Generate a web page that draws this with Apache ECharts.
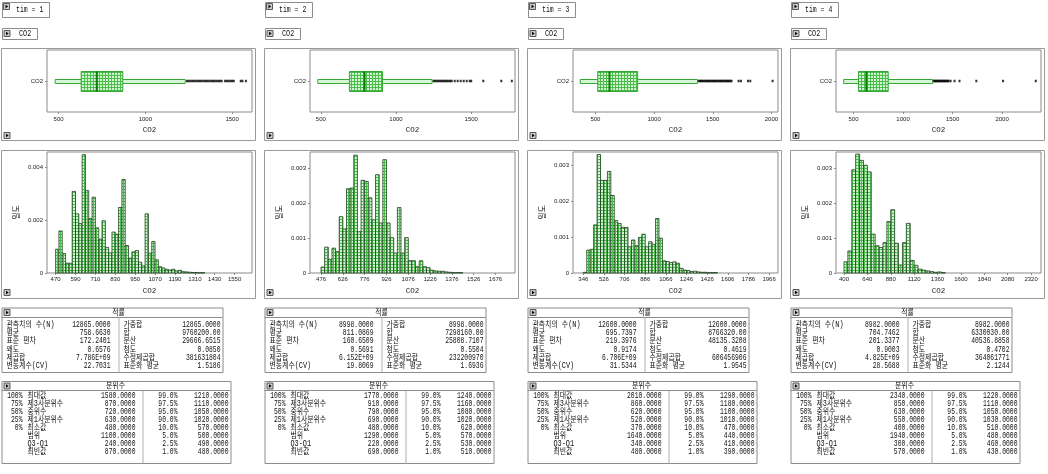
<!DOCTYPE html>
<html><head><meta charset="utf-8">
<script src="https://cdn.jsdelivr.net/npm/echarts@6/dist/echarts.min.js"></script>
<style>html,body{margin:0;padding:0;background:#fff;}#c{width:1048px;height:474px;}</style>
</head><body><div id="c"></div>
<script>
// ================= DATA =================
const timLabels = ['tim = 1', 'tim = 2', 'tim = 3', 'tim = 4'];
const varName = 'CO2';
const densityName = '밀도';

// box plot stats: [min, Q1, median, Q3, upper whisker]
const box1 = [480, 630, 720, 870, 1230];
const box2 = [480, 690, 790, 910, 1240];
const box3 = [370, 520, 620, 860, 1370];
const box4 = [400, 550, 630, 850, 1300];

const outliers1 = [1240,1250,1260,1270,1280,1290,1300,1310,1320,1330,1340,1350,1360,1370,1380,1390,1400,1410,1420,1430,1440,1460,1470,1480,1490,1500,1510,1550,1560,1580];
const outliers2 = [1250,1260,1270,1280,1290,1300,1310,1320,1330,1340,1350,1360,1370,1390,1410,1430,1450,1470,1490,1500,1580,1700,1770];
const outliers3 = [1380,1390,1400,1410,1420,1430,1440,1450,1460,1470,1480,1490,1500,1510,1520,1530,1540,1550,1560,1570,1580,1590,1600,1610,1620,1630,1640,1650,1660,1720,1740,1800,1820,2010];
const outliers4 = [1310,1320,1330,1340,1350,1360,1370,1380,1390,1400,1410,1420,1430,1440,1450,1460,1480,1520,1570,1740,2010,2340];

// histogram: first bin edge, bin width, densities
const histStart = [470, 476, 346, 400];
const histBinWidth = [20, 25, 30, 40];
const hist1 = [0.00090,0.00159,0.00074,0.00037,0.00037,0.00309,0.00224,0.00187,0.00448,0.00312,0.00206,0.00287,0.00171,0.00128,0.00198,0.00097,0.00076,0.00155,0.00147,0.00248,0.00354,0.00104,0.00056,0.00080,0.00085,0.00041,0.00027,0.00224,0.00075,0.00119,0.00050,0.00024,0.00019,0.00014,0.00011,0.00014,0.00008,0.00010,0.00005,0.00004,0.00003,0.00002,0.00002,0.00001,0.00001];
const hist2 = [0.00017,0.00074,0.00039,0.00071,0.00061,0.00161,0.00126,0.00241,0.00243,0.00337,0.00118,0.00265,0.00262,0.00215,0.00152,0.00281,0.00143,0.00324,0.00143,0.00101,0.00057,0.00187,0.00057,0.00101,0.00035,0.00035,0.00018,0.00035,0.00018,0.00015,0.00008,0.00006,0.00005,0.00005,0.00003,0.00002,0.00001,0.00001,0.00001];
const hist3 = [0.00002,0.00064,0.00066,0.00134,0.00330,0.00258,0.00258,0.00283,0.00216,0.00146,0.00138,0.00127,0.00127,0.00073,0.00092,0.00076,0.00099,0.00108,0.00073,0.00087,0.00080,0.00152,0.00097,0.00034,0.00032,0.00029,0.00031,0.00027,0.00013,0.00008,0.00007,0.00004,0.00005,0.00003,0.00002,0.00002,0.00001,0.00001,0.00001];
const hist4 = [0.00032,0.00063,0.00295,0.00340,0.00322,0.00308,0.00289,0.00111,0.00078,0.00073,0.00087,0.00147,0.00181,0.00085,0.00023,0.00087,0.00142,0.00036,0.00022,0.00011,0.00008,0.00006,0.00004,0.00002,0.00003,0.00001];

// tick labels
const boxTicks1 = [500, 1000, 1500];
const boxTicks2 = [500, 1000, 1500];
const boxTicks3 = [500, 1000, 1500, 2000];
const boxTicks4 = [500, 1000, 1500, 2000];
const histTicks1 = [470, 590, 710, 830, 950, 1070, 1190, 1310, 1430, 1550];
const histTicks2 = [476, 626, 776, 926, 1076, 1226, 1376, 1526, 1676];
const histTicks3 = [346, 526, 706, 886, 1066, 1246, 1426, 1606, 1786, 1966];
const histTicks4 = [400, 640, 880, 1120, 1360, 1600, 1840, 2080, 2320];
const densTicks1 = [0, 0.002, 0.004];
const densTicks2 = [0, 0.001, 0.002, 0.003];
const densTicks3 = [0, 0.001, 0.002, 0.003];
const densTicks4 = [0, 0.001, 0.002, 0.003];

// axis extents
const boxRange1 = [433, 1615];
const boxRange2 = [428, 1791];
const boxRange3 = [309, 2056];
const boxRange4 = [323, 2393];
const histRange1 = [418, 1655];
const histRange2 = [400, 1810];
const histRange3 = [256, 2044];
const histRange4 = [318, 2422];
const densMax1 = 0.00458;
const densMax2 = 0.00346;
const densMax3 = 0.00337;
const densMax4 = 0.00346;

// moments table
const momentTitle = '적률';
const momentNamesL = ['관측치의 수(N)', '평균', '표준 편차', '왜도', '제곱합', '변동계수(CV)'];
const momentNamesR = ['가중합', '합', '분산', '첨도', '수정제곱합', '표준화 평균'];
const moments1L = ['12865.0000', '758.6630', '172.2401', '0.6576', '7.786E+09', '22.7031'];
const moments1R = ['12865.0000', '9760200.00', '29666.6515', '0.0850', '381631804', '1.5186'];
const moments2L = ['8998.0000', '811.0869', '160.6509', '0.5691', '6.152E+09', '19.8069'];
const moments2R = ['8998.0000', '7298160.00', '25808.7107', '0.5504', '232200970', '1.6936'];
const moments3L = ['12600.0000', '695.7397', '219.3976', '0.9174', '6.706E+09', '31.5344'];
const moments3R = ['12600.0000', '8766320.00', '48135.3208', '0.4619', '606456906', '1.9545'];
const moments4L = ['8982.0000', '704.7462', '201.3377', '0.9003', '4.825E+09', '28.5688'];
const moments4R = ['8982.0000', '6330030.00', '40536.8858', '0.4702', '364061771', '2.1244'];

// quantiles table
const quantTitle = '분위수';
const quantPctL = ['100%', '75%', '50%', '25%', '0%', '', '', ''];
const quantNamesL = ['최대값', '제3사분위수', '중위수', '제1사분위수', '최소값', '범위', 'Q3-Q1', '최빈값'];
const quantPctR = ['99.0%', '97.5%', '95.0%', '90.0%', '10.0%', '5.0%', '2.5%', '1.0%'];
const quant1L = ['1580.0000', '870.0000', '720.0000', '630.0000', '480.0000', '1100.0000', '240.0000', '870.0000'];
const quant1R = ['1210.0000', '1110.0000', '1050.0000', '1020.0000', '570.0000', '500.0000', '490.0000', '480.0000'];
const quant2L = ['1770.0000', '910.0000', '790.0000', '690.0000', '480.0000', '1290.0000', '220.0000', '690.0000'];
const quant2R = ['1240.0000', '1160.0000', '1080.0000', '1020.0000', '620.0000', '570.0000', '530.0000', '510.0000'];
const quant3L = ['2010.0000', '860.0000', '620.0000', '520.0000', '370.0000', '1640.0000', '340.0000', '480.0000'];
const quant3R = ['1290.0000', '1180.0000', '1100.0000', '1010.0000', '470.0000', '440.0000', '410.0000', '390.0000'];
const quant4L = ['2340.0000', '850.0000', '630.0000', '550.0000', '400.0000', '1940.0000', '300.0000', '570.0000'];
const quant4R = ['1220.0000', '1110.0000', '1050.0000', '1030.0000', '510.0000', '480.0000', '460.0000', '430.0000'];

// ================= BUILD =================
const panels = [
  {tim: timLabels[0], box: box1, out: outliers1, hist: hist1, bt: boxTicks1, ht: histTicks1, dt: densTicks1, br: boxRange1, hr: histRange1, dm: densMax1, mL: moments1L, mR: moments1R, qL: quant1L, qR: quant1R},
  {tim: timLabels[1], box: box2, out: outliers2, hist: hist2, bt: boxTicks2, ht: histTicks2, dt: densTicks2, br: boxRange2, hr: histRange2, dm: densMax2, mL: moments2L, mR: moments2R, qL: quant2L, qR: quant2R},
  {tim: timLabels[2], box: box3, out: outliers3, hist: hist3, bt: boxTicks3, ht: histTicks3, dt: densTicks3, br: boxRange3, hr: histRange3, dm: densMax3, mL: moments3L, mR: moments3R, qL: quant3L, qR: quant3R},
  {tim: timLabels[3], box: box4, out: outliers4, hist: hist4, bt: boxTicks4, ht: histTicks4, dt: densTicks4, br: boxRange4, hr: histRange4, dm: densMax4, mL: moments4L, mR: moments4R, qL: quant4L, qR: quant4R}
];
const PX = [1, 264, 527, 790];
const FW = 254;

function makePattern() {
  const c = document.createElement('canvas');
  c.width = 3; c.height = 3;
  const g = c.getContext('2d');
  g.fillStyle = '#d2f4d2'; g.fillRect(0, 0, 3, 3);
  g.fillStyle = '#4cbc4c'; g.fillRect(0, 0, 3, 1); g.fillRect(0, 0, 1, 3);
  return c;
}
const pat = {image: makePattern(), repeat: 'repeat'};

const AX = '#8a8a8a';
const TXT = '#222';
const LBL = {fontSize: 6, fontFamily: 'Liberation Sans', color: TXT, formatter: v => String(v)};
const MONO = "'Liberation Mono','Noto Sans CJK KR'";

const grid = [], xAxis = [], yAxis = [], series = [], graphic = [];

function icon(x, y) {
  return {type: 'group', x: x, y: y, silent: true, children: [
    {type: 'rect', shape: {x: 0.5, y: 0.5, width: 6, height: 6}, style: {fill: '#c9c9c9', stroke: '#5a5a5a', lineWidth: 1}},
    {type: 'polygon', shape: {points: [[2.5, 1.8], [5.2, 3.5], [2.5, 5.2]]}, style: {fill: '#000'}}
  ]};
}
function txt(x, y, s, align, size, sy, sx) {
  return {type: 'text', x: x, y: y, scaleY: sy || 1.35, scaleX: sx || 1, silent: true,
    style: {text: s, x: 0, y: 0, textAlign: align, align: align, textVerticalAlign: 'middle', verticalAlign: 'middle',
      font: size + 'px ' + MONO, fill: '#111'}};
}
// Korean labels: larger glyphs, latin parts narrowed
function ktxt(x, y, s, align) { return txt(x, y, s, align, 7.8, 1.05, 0.88); }
function frame(x, y, w, h, color) {
  return {type: 'rect', silent: true, shape: {x: x + 0.5, y: y + 0.5, width: w, height: h}, style: {fill: 'none', stroke: color || '#9a9a9a', lineWidth: 1}};
}
function hline(x1, x2, y, color) {
  return {type: 'line', silent: true, shape: {x1: x1, y1: y + 0.5, x2: x2, y2: y + 0.5}, style: {stroke: color || '#9a9a9a', lineWidth: 1}};
}
function vline(x, y1, y2, color) {
  return {type: 'line', silent: true, shape: {x1: x + 0.5, y1: y1, x2: x + 0.5, y2: y2}, style: {stroke: color || '#9a9a9a', lineWidth: 1}};
}

panels.forEach((p, i) => {
  const X = PX[i];
  const gb = 2 * i, gh = 2 * i + 1;
  grid.push({left: X + 46, top: 50, width: 205, height: 62, show: true, borderColor: AX, borderWidth: 1, backgroundColor: '#fff'});
  grid.push({left: X + 46, top: 152, width: 205, height: 121, show: true, borderColor: AX, borderWidth: 1, backgroundColor: '#fff'});
  xAxis.push({gridIndex: gb, type: 'value', min: p.br[0], max: p.br[1],
    axisLine: {show: false}, splitLine: {show: false},
    axisTick: {show: true, length: 2, customValues: p.bt, lineStyle: {color: AX}},
    axisLabel: Object.assign({}, LBL, {customValues: p.bt, margin: 4}),
    name: varName, nameLocation: 'middle', nameGap: 14,
    nameTextStyle: {fontSize: 7.5, fontFamily: 'Liberation Mono', color: TXT}});
  yAxis.push({gridIndex: gb, type: 'category', data: [varName],
    axisLine: {show: false}, splitLine: {show: false},
    axisTick: {show: true, length: 2, alignWithLabel: true, lineStyle: {color: AX}},
    axisLabel: {margin: 4, fontSize: 6, fontFamily: 'Liberation Sans', color: TXT}});
  xAxis.push({gridIndex: gh, type: 'value', min: p.hr[0], max: p.hr[1],
    axisLine: {show: false}, splitLine: {show: false},
    axisTick: {show: true, length: 2, customValues: p.ht, lineStyle: {color: AX}},
    axisLabel: Object.assign({}, LBL, {customValues: p.ht, margin: 3}),
    name: varName, nameLocation: 'middle', nameGap: 14,
    nameTextStyle: {fontSize: 7.5, fontFamily: 'Liberation Mono', color: TXT}});
  yAxis.push({gridIndex: gh, type: 'value', min: 0, max: p.dm,
    axisLine: {show: false}, splitLine: {show: false},
    axisTick: {show: true, length: 2, customValues: p.dt, lineStyle: {color: AX}},
    axisLabel: Object.assign({}, LBL, {customValues: p.dt, margin: 4, formatter: v => v === 0 ? '0' : v.toFixed(3)}),
    name: densityName, nameLocation: 'middle', nameGap: 27, nameRotate: 90,
    nameTextStyle: {fontSize: 8, fontFamily: 'Noto Sans CJK KR', color: TXT}});
  series.push({type: 'custom', xAxisIndex: gb, yAxisIndex: gb, animation: false, silent: true,
    data: [[p.box[0], p.box[1], p.box[2], p.box[3], p.box[4], 0]],
    encode: {x: [0, 1, 2, 3, 4], y: 5},
    renderItem: (params, api) => {
      const px = k => api.coord([api.value(k), 0])[0];
      const yc = Math.round(api.coord([api.value(0), 0])[1]) + 0.5;
      const x0 = px(0), x1 = px(1), x2 = px(2), x3 = px(3), x4 = px(4);
      return {type: 'group', children: [
        {type: 'rect', shape: {x: x0, y: yc - 2, width: x4 - x0, height: 4}, style: {fill: '#d6f6d6', stroke: '#36a836', lineWidth: 1}},
        {type: 'rect', shape: {x: x1, y: yc - 10, width: x3 - x1, height: 20}, style: {fill: pat, stroke: '#36a836', lineWidth: 1}},
        {type: 'line', shape: {x1: x2, y1: yc - 10, x2: x2, y2: yc + 10}, style: {stroke: '#0a7a0a', lineWidth: 2}}
      ]};
    }});
  series.push({type: 'scatter', xAxisIndex: gb, yAxisIndex: gb, animation: false, silent: true,
    symbol: 'rect', symbolSize: [2, 2.5], itemStyle: {color: '#000'},
    data: p.out.map(v => [v, 0])});
  const st = histStart[i], bw = histBinWidth[i];
  series.push({type: 'custom', xAxisIndex: gh, yAxisIndex: gh, animation: false, silent: true,
    data: p.hist.map((d, k) => [st + k * bw, st + (k + 1) * bw, d]),
    encode: {x: [0, 1], y: 2},
    renderItem: (params, api) => {
      const a = api.coord([api.value(0), api.value(2)]);
      const b = api.coord([api.value(1), 0]);
      return {type: 'rect', shape: {x: a[0], y: a[1], width: b[0] - a[0], height: b[1] - a[1]},
        style: {fill: pat, stroke: '#1e3f1e', lineWidth: 0.8}};
    }});
  graphic.push(frame(X + 1, 2, 47, 15, '#8c8c8c'));
  graphic.push(icon(X + 2, 3));
  graphic.push(txt(X + 15, 10, p.tim, 'left', 6.5, 1.3));
  graphic.push(frame(X + 1, 28, 35, 11, '#8c8c8c'));
  graphic.push(icon(X + 2.5, 30));
  graphic.push(txt(X + 18, 33.5, varName, 'left', 6.8, 1.2));
  graphic.push(frame(X, 48, FW, 92));
  graphic.push(icon(X + 2.5, 132));
  graphic.push(frame(X, 150, FW, 148));
  graphic.push(icon(X + 2.5, 289));
  const tx = X + 0.5;
  graphic.push(frame(tx, 307.5, 221, 64.5, '#8c8c8c'));
  graphic.push(hline(tx, tx + 221, 317, '#8c8c8c'));
  graphic.push(vline(tx + 117, 317.5, 372.5, '#b0b0b0'));
  graphic.push(icon(tx + 2, 309));
  graphic.push(ktxt(tx + 117, 312.5, momentTitle, 'center'));
  for (let r = 0; r < 6; r++) {
    const y = 324.5 + r * 8.3;
    graphic.push(ktxt(tx + 5, y, momentNamesL[r], 'left'));
    graphic.push(txt(tx + 109, y, p.mL[r], 'right', 6.4));
    graphic.push(ktxt(tx + 122, y, momentNamesR[r], 'left'));
    graphic.push(txt(tx + 219, y, p.mR[r], 'right', 6.4));
  }
  graphic.push(frame(tx, 381, 229, 82, '#8c8c8c'));
  graphic.push(hline(tx, tx + 229, 390, '#8c8c8c'));
  graphic.push(vline(tx + 141, 390.5, 463.5, '#b0b0b0'));
  graphic.push(icon(tx + 2, 382.5));
  graphic.push(ktxt(tx + 114, 385.8, quantTitle, 'center'));
  for (let r = 0; r < 8; r++) {
    const y = 396 + r * 8;
    if (quantPctL[r]) graphic.push(txt(tx + 21, y, quantPctL[r], 'right', 6.4));
    graphic.push(ktxt(tx + 26, y, quantNamesL[r], 'left'));
    graphic.push(txt(tx + 134, y, p.qL[r], 'right', 6.4));
    graphic.push(txt(tx + 176, y, quantPctR[r], 'right', 6.4));
    graphic.push(txt(tx + 227, y, p.qR[r], 'right', 6.4));
  }
});

const chart = echarts.init(document.getElementById('c'), null, {renderer: 'canvas', width: 1048, height: 474});
chart.setOption({
  backgroundColor: '#fff',
  animation: false,
  grid: grid, xAxis: xAxis, yAxis: yAxis, series: series,
  graphic: {elements: graphic}
});
</script>
</body></html>
